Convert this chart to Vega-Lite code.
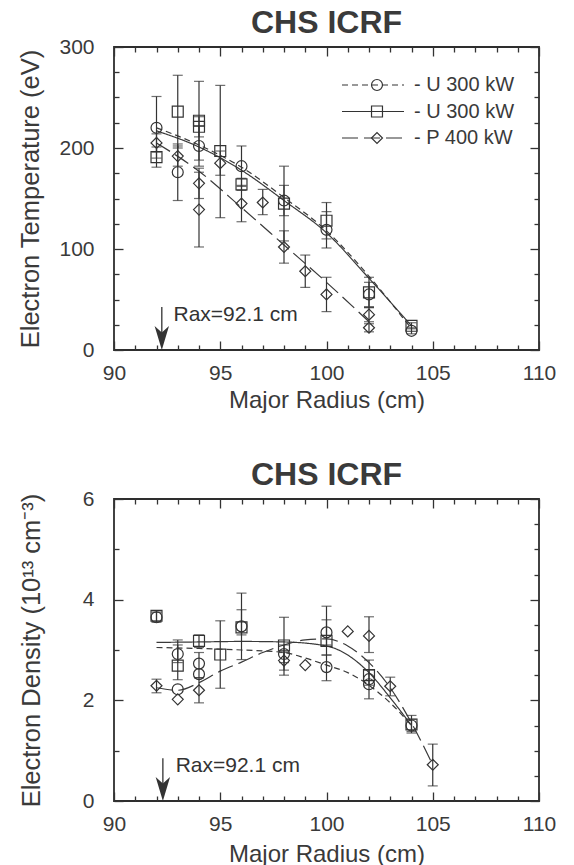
{
  "$schema": "https://vega.github.io/schema/vega-lite/v6.json",
  "background": "white",
  "padding": {"left": 17, "top": 6, "right": 5, "bottom": 5},
  "spacing": 45,
  "config": {
    "font": "Liberation Sans",
    "view": {"stroke": "#2e2e2e", "strokeWidth": 1.8},
    "axis": {"domain": false, "grid": false, "tickColor": "#333", "tickWidth": 1.3, "labelColor": "#3a3a3a", "labelFontSize": 21, "labelFont": "Liberation Sans", "titleColor": "#3a3a3a", "titleFontSize": 24, "titleFontWeight": "normal", "titleFont": "Liberation Sans", "labelOverlap": false, "labelFlush": false},
    "legend": {"labelFont": "Liberation Sans", "labelFontSize": 20, "labelColor": "#3a3a3a", "padding": 0, "rowPadding": 6.5},
    "title": {"font": "Liberation Sans", "fontSize": 32, "fontWeight": "bold", "color": "#3a3a3a", "baseline": "alphabetic", "offset": -4, "frame": "group"}
  },
  "datasets": {
    "te_pts": [
      {"series": "1: U 300 kW", "r": 92, "v": 220, "lo": 190, "hi": 251},
      {"series": "1: U 300 kW", "r": 93, "v": 176, "lo": 148, "hi": 204},
      {"series": "1: U 300 kW", "r": 94, "v": 202, "lo": 182, "hi": 222},
      {"series": "1: U 300 kW", "r": 96, "v": 182, "lo": 162, "hi": 202},
      {"series": "1: U 300 kW", "r": 98, "v": 148, "lo": 133, "hi": 163},
      {"series": "1: U 300 kW", "r": 100, "v": 119, "lo": 101, "hi": 137},
      {"series": "1: U 300 kW", "r": 102, "v": 55, "lo": 43, "hi": 67},
      {"series": "1: U 300 kW", "r": 104, "v": 19, "lo": 16, "hi": 22},
      {"series": "2: U 300 kW", "r": 92, "v": 191, "lo": 181, "hi": 201},
      {"series": "2: U 300 kW", "r": 93, "v": 236, "lo": 200, "hi": 272},
      {"series": "2: U 300 kW", "r": 94, "v": 227, "lo": 188, "hi": 266},
      {"series": "2: U 300 kW", "r": 94, "v": 221, "lo": 211, "hi": 231},
      {"series": "2: U 300 kW", "r": 95, "v": 197, "lo": 131, "hi": 262},
      {"series": "2: U 300 kW", "r": 96, "v": 164, "lo": 158, "hi": 170},
      {"series": "2: U 300 kW", "r": 98, "v": 145, "lo": 108, "hi": 182},
      {"series": "2: U 300 kW", "r": 100, "v": 128, "lo": 110, "hi": 146},
      {"series": "2: U 300 kW", "r": 102, "v": 57, "lo": 42, "hi": 72},
      {"series": "2: U 300 kW", "r": 104, "v": 24, "lo": 21, "hi": 27},
      {"series": "3: P 400 kW", "r": 92, "v": 205, "lo": 196, "hi": 214},
      {"series": "3: P 400 kW", "r": 93, "v": 192, "lo": 182, "hi": 202},
      {"series": "3: P 400 kW", "r": 94, "v": 165, "lo": 150, "hi": 180},
      {"series": "3: P 400 kW", "r": 94, "v": 139, "lo": 102, "hi": 176},
      {"series": "3: P 400 kW", "r": 95, "v": 185, "lo": 173, "hi": 197},
      {"series": "3: P 400 kW", "r": 96, "v": 145, "lo": 127, "hi": 163},
      {"series": "3: P 400 kW", "r": 97, "v": 146, "lo": 134, "hi": 159},
      {"series": "3: P 400 kW", "r": 98, "v": 102, "lo": 86, "hi": 118},
      {"series": "3: P 400 kW", "r": 99, "v": 78, "lo": 62, "hi": 94},
      {"series": "3: P 400 kW", "r": 100, "v": 55, "lo": 38, "hi": 72},
      {"series": "3: P 400 kW", "r": 102, "v": 35, "lo": 28, "hi": 42},
      {"series": "3: P 400 kW", "r": 102, "v": 22, "lo": 18, "hi": 26}
    ],
    "te_fit": [
      {"series": "1: U 300 kW", "r": 92, "v": 220},
      {"series": "1: U 300 kW", "r": 94, "v": 203},
      {"series": "1: U 300 kW", "r": 96, "v": 181},
      {"series": "1: U 300 kW", "r": 98, "v": 151},
      {"series": "1: U 300 kW", "r": 100, "v": 118},
      {"series": "1: U 300 kW", "r": 102, "v": 73},
      {"series": "1: U 300 kW", "r": 104, "v": 21},
      {"series": "2: U 300 kW", "r": 92, "v": 217},
      {"series": "2: U 300 kW", "r": 94, "v": 201},
      {"series": "2: U 300 kW", "r": 96, "v": 178},
      {"series": "2: U 300 kW", "r": 98, "v": 148},
      {"series": "2: U 300 kW", "r": 100, "v": 116},
      {"series": "2: U 300 kW", "r": 102, "v": 71},
      {"series": "2: U 300 kW", "r": 104, "v": 24},
      {"series": "3: P 400 kW", "r": 92, "v": 205},
      {"series": "3: P 400 kW", "r": 94, "v": 177},
      {"series": "3: P 400 kW", "r": 96, "v": 141},
      {"series": "3: P 400 kW", "r": 98, "v": 104},
      {"series": "3: P 400 kW", "r": 100, "v": 67},
      {"series": "3: P 400 kW", "r": 102, "v": 28}
    ],
    "ne_pts": [
      {"series": "1: U 300 kW", "r": 92, "v": 3.65, "lo": 3.55, "hi": 3.75},
      {"series": "1: U 300 kW", "r": 93, "v": 2.92, "lo": 2.75, "hi": 3.1},
      {"series": "1: U 300 kW", "r": 93, "v": 2.22, "lo": null, "hi": null},
      {"series": "1: U 300 kW", "r": 94, "v": 2.73, "lo": 2.45, "hi": 2.95},
      {"series": "1: U 300 kW", "r": 94, "v": 2.52, "lo": null, "hi": null},
      {"series": "1: U 300 kW", "r": 96, "v": 3.47, "lo": 3.3, "hi": 3.8},
      {"series": "1: U 300 kW", "r": 98, "v": 2.92, "lo": 2.75, "hi": 3.1},
      {"series": "1: U 300 kW", "r": 100, "v": 3.35, "lo": 3.1, "hi": 3.87},
      {"series": "1: U 300 kW", "r": 100, "v": 2.66, "lo": 2.39, "hi": 2.9},
      {"series": "1: U 300 kW", "r": 102, "v": 2.42, "lo": 2.03, "hi": 2.6},
      {"series": "1: U 300 kW", "r": 102, "v": 2.32, "lo": null, "hi": null},
      {"series": "1: U 300 kW", "r": 104, "v": 1.5, "lo": 1.38, "hi": 1.62},
      {"series": "2: U 300 kW", "r": 92, "v": 3.68, "lo": 3.58, "hi": 3.78},
      {"series": "2: U 300 kW", "r": 93, "v": 2.69, "lo": 2.41, "hi": 3.2},
      {"series": "2: U 300 kW", "r": 94, "v": 3.18, "lo": 3.05, "hi": 3.3},
      {"series": "2: U 300 kW", "r": 95, "v": 2.91, "lo": 2.24, "hi": 3.58},
      {"series": "2: U 300 kW", "r": 96, "v": 3.45, "lo": 2.81, "hi": 4.13},
      {"series": "2: U 300 kW", "r": 98, "v": 3.09, "lo": 2.5, "hi": 3.65},
      {"series": "2: U 300 kW", "r": 100, "v": 3.18, "lo": 2.9, "hi": 3.6},
      {"series": "2: U 300 kW", "r": 102, "v": 2.5, "lo": 2.3, "hi": 2.8},
      {"series": "2: U 300 kW", "r": 104, "v": 1.52, "lo": 1.35, "hi": 1.7},
      {"series": "3: P 400 kW", "r": 92, "v": 2.29, "lo": 2.15, "hi": 2.42},
      {"series": "3: P 400 kW", "r": 93, "v": 2.02, "lo": null, "hi": null},
      {"series": "3: P 400 kW", "r": 94, "v": 2.2, "lo": 1.95, "hi": 2.45},
      {"series": "3: P 400 kW", "r": 98, "v": 2.79, "lo": 2.6, "hi": 2.95},
      {"series": "3: P 400 kW", "r": 99, "v": 2.7, "lo": null, "hi": null},
      {"series": "3: P 400 kW", "r": 101, "v": 3.37, "lo": null, "hi": null},
      {"series": "3: P 400 kW", "r": 102, "v": 3.28, "lo": 2.95, "hi": 3.66},
      {"series": "3: P 400 kW", "r": 103, "v": 2.28, "lo": 2.09, "hi": 2.46},
      {"series": "3: P 400 kW", "r": 105, "v": 0.72, "lo": 0.3, "hi": 1.13}
    ],
    "ne_fit": [
      {"series": "1: U 300 kW", "r": 92, "v": 3.05},
      {"series": "1: U 300 kW", "r": 94, "v": 3.03},
      {"series": "1: U 300 kW", "r": 96, "v": 3.0},
      {"series": "1: U 300 kW", "r": 98, "v": 2.95},
      {"series": "1: U 300 kW", "r": 99, "v": 2.84},
      {"series": "1: U 300 kW", "r": 100, "v": 2.7},
      {"series": "1: U 300 kW", "r": 101, "v": 2.55},
      {"series": "1: U 300 kW", "r": 102, "v": 2.3},
      {"series": "1: U 300 kW", "r": 103, "v": 1.95},
      {"series": "1: U 300 kW", "r": 104, "v": 1.5},
      {"series": "2: U 300 kW", "r": 92, "v": 3.15},
      {"series": "2: U 300 kW", "r": 94, "v": 3.16},
      {"series": "2: U 300 kW", "r": 96, "v": 3.17},
      {"series": "2: U 300 kW", "r": 98, "v": 3.16},
      {"series": "2: U 300 kW", "r": 100, "v": 3.08},
      {"series": "2: U 300 kW", "r": 101, "v": 2.9},
      {"series": "2: U 300 kW", "r": 102, "v": 2.55},
      {"series": "2: U 300 kW", "r": 103, "v": 2.05},
      {"series": "2: U 300 kW", "r": 104, "v": 1.5},
      {"series": "3: P 400 kW", "r": 92, "v": 2.25},
      {"series": "3: P 400 kW", "r": 93, "v": 2.2},
      {"series": "3: P 400 kW", "r": 94, "v": 2.35},
      {"series": "3: P 400 kW", "r": 95, "v": 2.58},
      {"series": "3: P 400 kW", "r": 96, "v": 2.76},
      {"series": "3: P 400 kW", "r": 97, "v": 2.95},
      {"series": "3: P 400 kW", "r": 98, "v": 3.1},
      {"series": "3: P 400 kW", "r": 99, "v": 3.2},
      {"series": "3: P 400 kW", "r": 100, "v": 3.22},
      {"series": "3: P 400 kW", "r": 101, "v": 3.08},
      {"series": "3: P 400 kW", "r": 102, "v": 2.75},
      {"series": "3: P 400 kW", "r": 103, "v": 2.25},
      {"series": "3: P 400 kW", "r": 104, "v": 1.55},
      {"series": "3: P 400 kW", "r": 105, "v": 0.72}
    ]
  },
  "vconcat": [
    {
      "width": 425,
      "height": 303,
      "title": {"text": "CHS ICRF"},
      "resolve": {"axis": {"x": "independent", "y": "independent"}},
      "layer": [
        {
          "data": {"name": "te_fit"},
          "mark": {"type": "line", "stroke": "#3a3a3a", "strokeWidth": 1.2, "interpolate": "monotone"},
          "encoding": {
            "x": {"field": "r", "type": "quantitative", "scale": {"domain": [90, 110], "nice": false, "zero": false},
              "axis": {"values": [90,91,92,93,94,95,96,97,98,99,100,101,102,103,104,105,106,107,108,109,110], "labelExpr": "datum.value % 5 === 0 ? datum.label : ''", "tickSize": {"condition": {"test": "datum.value % 5 === 0", "value": -9}, "value": -5}, "labelPadding": 21, "title": "Major Radius (cm)", "titleBaseline": "alphabetic", "titleY": 57}},
            "y": {"field": "v", "type": "quantitative", "scale": {"domain": [0, 300], "nice": false},
              "axis": {"values": [0,25,50,75,100,125,150,175,200,225,250,275,300], "labelExpr": "datum.value % 100 === 0 ? datum.label : ''", "tickSize": {"condition": {"test": "datum.value % 100 === 0", "value": -9}, "value": -5}, "labelPadding": 29, "title": "Electron Temperature (eV)", "titleFontSize": 25.5, "titleBaseline": "alphabetic", "titleX": -76}},
            "strokeDash": {"field": "series", "type": "nominal", "scale": {"domain": ["1: U 300 kW", "2: U 300 kW", "3: P 400 kW"], "range": [[6, 4], [1, 0], [16, 6]]},
              "legend": {"orient": "none", "legendX": 227, "legendY": 28, "title": null, "symbolType": "stroke", "symbolSize": 3844, "clipHeight": 20, "symbolStrokeWidth": 1.2, "symbolStrokeColor": "#333", "labelOffset": 9, "labelExpr": "'- ' + slice(datum.label, 3)"}}
          }
        },
        {
          "data": {"name": "te_pts"},
          "transform": [{"filter": "datum.lo != null"}],
          "mark": {"type": "errorbar", "ticks": {"size": 10, "thickness": 1.2, "color": "#333"}, "rule": {"strokeWidth": 1.2, "color": "#333"}},
          "encoding": {
            "x": {"field": "r", "type": "quantitative", "axis": null},
            "y": {"field": "lo", "type": "quantitative", "axis": null},
            "y2": {"field": "hi"}
          }
        },
        {
          "data": {"name": "te_pts"},
          "mark": {"type": "point", "filled": false, "size": 120, "stroke": "#333", "strokeWidth": 1.2, "opacity": 1},
          "encoding": {
            "x": {"field": "r", "type": "quantitative",
              "axis": {"orient": "top", "minExtent": 0, "values": [90,91,92,93,94,95,96,97,98,99,100,101,102,103,104,105,106,107,108,109,110], "labels": false, "title": null, "tickSize": {"condition": {"test": "datum.value % 5 === 0", "value": -9}, "value": -5}}},
            "y": {"field": "v", "type": "quantitative",
              "axis": {"orient": "right", "minExtent": 0, "values": [0,25,50,75,100,125,150,175,200,225,250,275,300], "labels": false, "title": null, "tickSize": {"condition": {"test": "datum.value % 100 === 0", "value": -9}, "value": -5}}},
            "shape": {"field": "series", "type": "nominal", "scale": {"range": ["circle", "square", "diamond"]},
              "legend": {"orient": "none", "legendX": 253, "legendY": 28, "title": null, "symbolSize": 120, "clipHeight": 20, "symbolFillColor": "transparent", "symbolStrokeColor": "#333", "symbolStrokeWidth": 1.2, "labelOpacity": 0, "labelOffset": 9, "labelExpr": "''"}}
          }
        },
        {
          "data": {"values": [{}]},
          "mark": {"type": "rule", "stroke": "#333", "strokeWidth": 1.3},
          "encoding": {
            "x": {"datum": 92.25, "type": "quantitative", "axis": null},
            "y": {"datum": 42.6, "type": "quantitative", "axis": null},
            "y2": {"datum": 10}
          }
        },
        {
          "data": {"values": [{}]},
          "mark": {"type": "point", "shape": "M-0.6,-1L0,1L0.6,-1L0,-0.45Z", "size": 576, "filled": true, "fill": "#333", "opacity": 1, "strokeWidth": 0},
          "encoding": {
            "x": {"datum": 92.25, "type": "quantitative", "axis": null},
            "y": {"datum": 12, "type": "quantitative", "axis": null}
          }
        },
        {
          "data": {"values": [{"label": "Rax=92.1 cm"}]},
          "mark": {"type": "text", "align": "left", "baseline": "alphabetic", "fontSize": 21, "color": "#333"},
          "encoding": {
            "x": {"datum": 92.8, "type": "quantitative", "axis": null},
            "y": {"datum": 28.7, "type": "quantitative", "axis": null},
            "text": {"field": "label"}
          }
        }
      ]
    },
    {
      "width": 425,
      "height": 302,
      "title": {"text": "CHS ICRF"},
      "resolve": {"axis": {"x": "independent", "y": "independent"}},
      "layer": [
        {
          "data": {"name": "ne_fit"},
          "mark": {"type": "line", "stroke": "#3a3a3a", "strokeWidth": 1.2, "interpolate": "monotone"},
          "encoding": {
            "x": {"field": "r", "type": "quantitative", "scale": {"domain": [90, 110], "nice": false, "zero": false},
              "axis": {"values": [90,91,92,93,94,95,96,97,98,99,100,101,102,103,104,105,106,107,108,109,110], "labelExpr": "datum.value % 5 === 0 ? datum.label : ''", "tickSize": {"condition": {"test": "datum.value % 5 === 0", "value": -9}, "value": -5}, "labelPadding": 21, "title": "Major Radius (cm)", "titleBaseline": "alphabetic", "titleY": 60}},
            "y": {"field": "v", "type": "quantitative", "scale": {"domain": [0, 6], "nice": false},
              "axis": {"values": [0,0.5,1,1.5,2,2.5,3,3.5,4,4.5,5,5.5,6], "format": "d", "labelExpr": "datum.value % 2 === 0 ? datum.label : ''", "tickSize": {"condition": {"test": "datum.value % 2 === 0", "value": -9}, "value": -5}, "labelPadding": 29, "title": "Electron Density (10¹³ cm⁻³)", "titleFontSize": 25.5, "titleBaseline": "alphabetic", "titleX": -75}},
            "strokeDash": {"field": "series", "type": "nominal", "scale": {"domain": ["1: U 300 kW", "2: U 300 kW", "3: P 400 kW"], "range": [[6, 4], [1, 0], [16, 6]]},
              "legend": {"orient": "none", "legendX": 230, "legendY": 23, "title": null, "symbolType": "stroke", "symbolSize": 3844, "clipHeight": 20, "symbolStrokeWidth": 1.2, "symbolStrokeColor": "#333", "labelOffset": 10, "labelExpr": "'- ' + slice(datum.label, 3)"}}
          }
        },
        {
          "data": {"name": "ne_pts"},
          "transform": [{"filter": "datum.lo != null"}],
          "mark": {"type": "errorbar", "ticks": {"size": 10, "thickness": 1.2, "color": "#333"}, "rule": {"strokeWidth": 1.2, "color": "#333"}},
          "encoding": {
            "x": {"field": "r", "type": "quantitative", "axis": null},
            "y": {"field": "lo", "type": "quantitative", "axis": null},
            "y2": {"field": "hi"}
          }
        },
        {
          "data": {"name": "ne_pts"},
          "mark": {"type": "point", "filled": false, "size": 120, "stroke": "#333", "strokeWidth": 1.2, "opacity": 1},
          "encoding": {
            "x": {"field": "r", "type": "quantitative",
              "axis": {"orient": "top", "minExtent": 0, "values": [90,91,92,93,94,95,96,97,98,99,100,101,102,103,104,105,106,107,108,109,110], "labels": false, "title": null, "tickSize": {"condition": {"test": "datum.value % 5 === 0", "value": -9}, "value": -5}}},
            "y": {"field": "v", "type": "quantitative",
              "axis": {"orient": "right", "minExtent": 0, "values": [0,0.5,1,1.5,2,2.5,3,3.5,4,4.5,5,5.5,6], "labels": false, "title": null, "tickSize": {"condition": {"test": "datum.value % 2 === 0", "value": -9}, "value": -5}}},
            "shape": {"field": "series", "type": "nominal", "scale": {"range": ["circle", "square", "diamond"]},
              "legend": {"orient": "none", "legendX": 258, "legendY": 23, "title": null, "symbolSize": 120, "clipHeight": 20, "symbolFillColor": "transparent", "symbolStrokeColor": "#333", "symbolStrokeWidth": 1.2, "labelOpacity": 0, "labelOffset": 10, "labelExpr": "''"}}
          }
        },
        {
          "data": {"values": [{}]},
          "mark": {"type": "rule", "stroke": "#333", "strokeWidth": 1.3},
          "encoding": {
            "x": {"datum": 92.3, "type": "quantitative", "axis": null},
            "y": {"datum": 0.85, "type": "quantitative", "axis": null},
            "y2": {"datum": 0.2}
          }
        },
        {
          "data": {"values": [{}]},
          "mark": {"type": "point", "shape": "M-0.6,-1L0,1L0.6,-1L0,-0.45Z", "size": 576, "filled": true, "fill": "#333", "opacity": 1, "strokeWidth": 0},
          "encoding": {
            "x": {"datum": 92.3, "type": "quantitative", "axis": null},
            "y": {"datum": 0.24, "type": "quantitative", "axis": null}
          }
        },
        {
          "data": {"values": [{"label": "Rax=92.1 cm"}]},
          "mark": {"type": "text", "align": "left", "baseline": "alphabetic", "fontSize": 21, "color": "#333"},
          "encoding": {
            "x": {"datum": 92.9, "type": "quantitative", "axis": null},
            "y": {"datum": 0.58, "type": "quantitative", "axis": null},
            "text": {"field": "label"}
          }
        }
      ]
    }
  ]
}
